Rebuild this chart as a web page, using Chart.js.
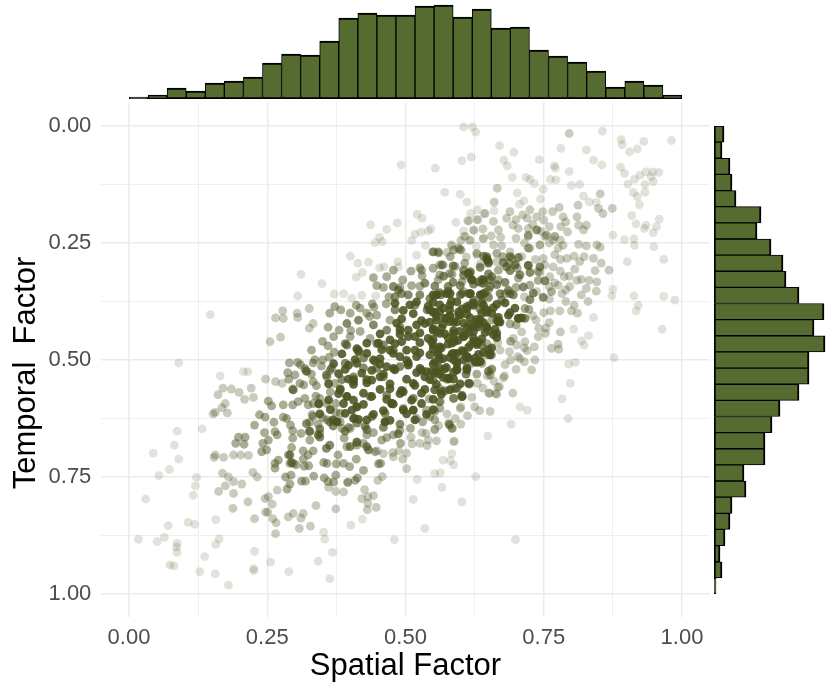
<!DOCTYPE html>
<html>
<head>
<meta charset="utf-8">
<title>Spatial vs Temporal Factor</title>
<script src="https://cdn.jsdelivr.net/npm/chart.js@4/dist/chart.umd.min.js"></script>
<style>
html, body { margin: 0; padding: 0; background: #fff; }
canvas { position: absolute; }
</style>
</head>
<body>
<canvas id="mainChart" width="830" height="692" style="left:0;top:0"></canvas>
<canvas id="topChart" width="830" height="100" style="left:0;top:0"></canvas>
<canvas id="sideChart" width="130" height="692" style="left:700px;top:0"></canvas>
<script>
// histogram counts
const topCounts = [2,4,11,8,16,18,22,36,45,44,58,81,86,84,84,93,94,82,90,71,72,49,43,37,28,12,18,14,4];
const sideCounts = [10,8,16,18,22,47,43,57,69,72,85,110,100,111,95,95,85,66,58,51,51,30,32,18,16,11,6,8,2];

// scatter points [spatial, temporal], grouped by how faint they are in the picture
const faintest = [
[.605,.002],[.621,.002],[.627,.013],[.670,.042],[.602,.074],[.619,.066],[.492,.083],[.554,.090],[.571,.142],[.599,.146],[.611,.162],[.665,.133],[.661,.162],[.437,.211],[.485,.207],[.521,.189],[.530,.197],[.466,.221],[.517,.231],[.528,.227],[.541,.224],[.546,.220],[.511,.245],[.445,.249],[.453,.238],[.458,.247],[.536,.255],[.400,.278],[.414,.293],[.433,.291],[.411,.323],[.422,.313],[.311,.317],[.349,.337],[.305,.363],[.371,.359],[.388,.358],[.403,.368],[.421,.362],[.446,.363],[.520,.276],[.618,.187],[.630,.179],[.642,.187],[.660,.181],[.591,.206],[.605,.224],[.624,.224],[.612,.202],[.632,.200],[.605,.236],[.616,.245],[.640,.241],[.584,.256],[.628,.256],[.629,.276],[.453,.303],[.461,.301],[.487,.301],[.486,.290],
[.856,.011],[.781,.048],[.827,.051],[.890,.029],[.892,.040],[.905,.055],[.919,.049],[.931,.033],[.981,.031],[.696,.056],[.678,.073],[.684,.085],[.742,.072],[.769,.085],[.771,.090],[.840,.073],[.855,.083],[.796,.097],[.889,.088],[.896,.101],[.693,.110],[.718,.110],[.725,.114],[.733,.123],[.762,.114],[.772,.115],[.749,.135],[.800,.127],[.815,.125],[.667,.133],[.702,.143],[.744,.156],[.822,.150],[.914,.114],[.924,.105],[.935,.098],[.947,.098],[.958,.099],[.944,.108],[.948,.119],[.902,.124],[.933,.125],[.912,.142],[.933,.142],[.919,.151],[.923,.168],[.660,.163],[.714,.160],[.706,.167],[.832,.162],[.845,.163],[.909,.191],[.917,.209],[.935,.212],[.932,.219],[.954,.215],[.959,.199],[.948,.228],[.875,.233],[.896,.243],[.913,.241],[.914,.255],[.949,.258],[.901,.290],[.967,.285],[.875,.349],[.873,.363],[.913,.363],[.967,.364],[.987,.372],
[.921,.383],[.917,.395],[.964,.434],[.877,.495],[.804,.434],[.831,.448],[.818,.459],[.823,.468],[.840,.409],[.794,.625],[.691,.637],[.649,.662],[.783,.583],[.798,.550],[.795,.509],[.807,.505],[.707,.600],[.720,.607],[.627,.749],[.602,.803],[.566,.772],[.699,.884],[.553,.743],[.563,.741],[.568,.714],[.584,.700],[.581,.715],[.587,.724],[.587,.674],
[.147,.403],[.090,.506],[.165,.534],[.207,.525],[.215,.525],[.087,.652],[.132,.647],[.082,.682],[.044,.699],[.090,.712],[.073,.734],[.054,.747],[.122,.751],[.120,.769],[.116,.789],[.030,.797],[.071,.854],[.107,.847],[.119,.851],[.157,.841],[.017,.883],[.051,.888],[.064,.879],[.087,.892],[.086,.900],[.087,.911],[.163,.882],[.157,.894],[.137,.920],[.074,.938],[.081,.940],[.128,.952],[.156,.957],[.180,.981],[.227,.909],[.256,.932],[.225,.946],[.226,.950],[.289,.952],[.342,.930],[.363,.967],[.368,.911],[.354,.883],[.352,.868],[.401,.853],[.422,.840],[.480,.884],[.535,.860],[.514,.798],[.521,.755]
];
const faint = [
[.796,.016],[.852,.145],[.868,.308],
[.170,.560],[.185,.562],[.161,.574],[.199,.569],[.209,.584],[.225,.580],[.221,.560],[.174,.593],[.168,.602],[.178,.613],[.152,.615],[.156,.612],[.247,.541],[.265,.546],[.277,.550],[.278,.395],[.265,.410],[.279,.411],[.304,.400],[.305,.409],[.326,.390],[.326,.432],[.333,.422],[.255,.461],[.274,.451],[.156,.703],[.171,.708],[.189,.703],[.202,.703],[.216,.704],[.154,.708],[.169,.742],[.180,.750],[.189,.760],[.174,.769],[.162,.781],[.189,.785],[.204,.765],[.215,.803],[.188,.817],[.224,.740],[.232,.750],[.268,.778],[.246,.796],[.252,.792],[.259,.808],[.247,.825],[.251,.825],[.260,.839],[.266,.848],[.265,.871],[.227,.839],[.288,.835],[.297,.828],[.315,.828],[.311,.838],[.308,.860],[.328,.855],[.338,.811],[.374,.818],[.426,.777],[.421,.796],[.432,.792],[.442,.790],[.432,.806],[.431,.820],[.447,.815],[.388,.782],[.374,.781],[.361,.772],[.395,.762],[.450,.757],[.458,.749],[.502,.732],[.495,.712],[.502,.699],[.488,.694],[.478,.707],[.477,.698],[.460,.700],[.449,.694],[.512,.679],[.526,.678],[.539,.683],[.556,.673],[.537,.657],[.541,.671],[.553,.648],[.600,.637],[.588,.674],[.612,.619],[.599,.604],[.634,.608],[.653,.610],[.625,.600],[.651,.571],[.665,.573],[.670,.557],[.630,.550],
[.750,.399],[.762,.395],[.779,.395],[.800,.395],[.811,.400],[.805,.383],[.736,.415],[.741,.432],[.753,.443],[.754,.432],[.695,.454],[.716,.461],[.701,.468],[.715,.474],[.733,.472],[.776,.466],[.764,.475],[.777,.477],[.734,.500],[.715,.504],[.707,.497],[.703,.493],[.728,.521],[.679,.534],[.677,.538],[.667,.558],[.652,.571],[.663,.572],[.694,.571],[.578,.635],[.585,.646],[.553,.649],[.656,.519],[.648,.534],[.616,.552],[.667,.463],[.688,.482],[.671,.479],
[.659,.204],[.668,.222],[.672,.238],[.689,.183],[.683,.197],[.694,.212],[.704,.219],[.725,.179],[.720,.197],[.737,.194],[.750,.201],[.748,.183],[.766,.183],[.778,.174],[.785,.194],[.781,.215],[.793,.226],[.812,.169],[.810,.194],[.813,.212],[.822,.222],[.827,.212],[.849,.176],[.857,.187],[.874,.176],[.722,.219],[.738,.222],[.752,.236],[.767,.244],[.780,.244],[.722,.236],[.813,.253],[.827,.256],[.846,.254],[.852,.259],[.644,.187],[.629,.200],[.614,.203],[.623,.222],[.608,.236],[.617,.244],[.641,.240],[.659,.254],[.674,.256],[.583,.254],[.601,.265],[.689,.269],[.710,.279],[.725,.261],[.749,.283],[.776,.261],[.780,.285],[.792,.283],[.805,.278],[.823,.279],[.840,.283],[.854,.293],[.752,.297],[.767,.301],[.806,.306],[.787,.322],[.796,.321],[.761,.322],[.743,.313],[.818,.328],[.832,.330],[.846,.333],[.843,.309],[.797,.343],[.827,.347],[.845,.353],[.818,.361],[.776,.340],[.783,.358],[.760,.343],[.737,.354],
[.700,.200],[.712,.190],[.730,.210],[.745,.225],[.760,.215],[.790,.205],[.700,.240],[.715,.250],[.760,.250],[.785,.255],[.640,.220],[.655,.235],[.600,.245],[.575,.270],[.610,.280],[.635,.295],[.665,.290],[.700,.295],[.735,.285],[.770,.275],[.815,.290],[.780,.310],[.810,.330],[.790,.350],[.770,.335],[.715,.365],[.760,.370],[.790,.375],[.830,.375],[.640,.560],[.660,.545],[.620,.580],[.600,.600],[.575,.615],[.590,.625],[.560,.640],[.530,.655],[.510,.665],[.690,.500],[.700,.520],[.680,.510],[.720,.480],[.710,.440],[.740,.450],[.760,.420],[.780,.440],[.730,.405]
];
const medium = [
[.236,.617],[.246,.622],[.262,.633],[.279,.622],[.227,.639],[.245,.655],[.264,.653],[.268,.660],[.252,.671],[.242,.678],[.240,.696],[.249,.692],[.198,.665],[.210,.665],[.193,.678],[.208,.680],[.292,.639],[.296,.651],[.311,.657],[.326,.653],[.327,.633],[.331,.617],[.296,.667],[.294,.687],[.315,.694],[.333,.694],[.288,.703],[.324,.703],[.315,.712],[.297,.721],[.270,.714],[.264,.721],[.264,.731],[.291,.721],[.302,.724],[.317,.727],[.325,.726],[.352,.719],[.358,.721],[.375,.722],[.388,.721],[.399,.728],[.411,.712],[.378,.703],[.424,.736],[.451,.722],[.455,.721],[.283,.750],[.293,.746],[.291,.765],[.286,.776],[.312,.759],[.319,.759],[.334,.748],[.353,.752],[.360,.760],[.370,.761],[.374,.746],[.396,.761],[.409,.757],[.413,.752],[.290,.506],[.305,.505],[.287,.527],[.300,.532],[.318,.518],[.322,.525],[.289,.541],[.309,.550],[.333,.546],[.296,.562],[.316,.553],[.339,.555],[.279,.596],[.296,.596],[.306,.589],[.318,.582],[.338,.577],[.252,.588],[.258,.598],[.330,.479],[.336,.499],[.348,.513],[.362,.494],[.371,.483],[.350,.460],[.363,.400],[.372,.386],[.383,.393],[.380,.436],[.411,.383],[.418,.389],[.443,.387],[.465,.380],[.472,.415],[.435,.407],[.448,.404],[.401,.437],[.418,.439],[.436,.454],[.324,.596],[.333,.593],[.344,.593],[.358,.593],[.374,.593],[.382,.614],[.374,.612],[.342,.637],[.350,.623],[.397,.644],[.385,.646],[.389,.667],[.394,.685],[.412,.675],[.442,.655],[.445,.696],[.457,.671],[.466,.666],[.478,.660],[.490,.650],[.491,.678],[.509,.646],[.531,.632],[.544,.621],[.553,.628],[.561,.589],[.587,.582],[.603,.578],[.579,.637],[.584,.646],[.609,.530],[.615,.550],[.629,.530],[.653,.532],[.647,.489],[.656,.489],[.543,.583],[.579,.541],[.562,.561],[.553,.564],[.562,.603],[.538,.607],
[.716,.390],[.723,.392],[.689,.423],[.668,.418],[.656,.415],[.647,.465],[.653,.487],[.638,.507],[.619,.507],[.656,.520],[.610,.530],[.616,.550],[.584,.561],[.602,.579],[.587,.582],[.563,.589],[.553,.610],[.580,.639],
[.737,.222],[.722,.233],[.755,.233],[.770,.236],[.647,.286],[.650,.293],[.692,.283],[.687,.293],[.702,.304],[.722,.298],[.668,.308],[.676,.279],[.722,.261],[.743,.254],[.629,.272],[.581,.279],[.566,.297],[.580,.315],[.617,.315],[.638,.336],[.668,.329],[.704,.325],[.725,.340],[.740,.311],[.764,.354],[.680,.358],[.650,.350],[.605,.354],[.562,.318],[.551,.269],[.560,.271],[.607,.293],[.596,.261],[.617,.325],
[.549,.269],[.559,.269],[.587,.265],[.599,.264],[.526,.303],[.529,.308],[.562,.297],[.568,.297],[.550,.304],[.442,.324],[.448,.341],[.466,.322],[.478,.308],[.495,.329],[.511,.341],[.526,.342],[.559,.329],[.584,.317],[.602,.333],[.614,.315],[.647,.283],[.650,.293],[.665,.272],
[.740,.330],[.700,.345],[.590,.300],[.530,.320],[.510,.310],[.490,.345],[.460,.345],[.470,.365],[.440,.380],[.430,.400],[.400,.400],[.400,.450],[.370,.450],[.360,.470],[.350,.500],[.330,.530],[.310,.510],[.360,.430],[.520,.625],[.690,.460],[.700,.425],
[.333,.506],[.363,.523],[.358,.537],[.372,.550],[.364,.568],[.345,.582],[.333,.621],[.358,.628],[.382,.632],[.400,.646],[.430,.660],[.412,.682],[.424,.678],[.345,.657],[.327,.671],[.285,.625]
];
const dark = [
[.481,.393],[.517,.383],[.539,.393],[.580,.404],[.616,.383],[.634,.390],[.394,.422],[.415,.415],[.442,.425],[.466,.436],[.490,.429],[.391,.465],[.394,.468],[.415,.479],[.424,.496],[.448,.465],[.460,.468],[.478,.479],[.445,.503],[.424,.517],[.391,.507],[.366,.518],[.357,.532],[.385,.542],[.406,.546],[.448,.518],[.460,.536],[.490,.514],[.382,.561],[.394,.578],[.412,.600],[.436,.578],[.466,.575],[.475,.593],[.496,.604],[.514,.582],[.514,.607],[.463,.614],[.439,.621],[.409,.625],[.427,.642],[.463,.632],[.363,.632],[.376,.632],[.345,.665],[.342,.660],[.327,.652],[.357,.689],[.363,.682],[.400,.685],[.412,.676],[.430,.685],[.433,.692],[.487,.658],[.291,.703],[.294,.719],[.297,.564],[.320,.523],[.406,.536],[.593,.518],[.575,.541],[.593,.560],[.571,.566],[.602,.578],[.550,.543],[.614,.550],[.650,.524],[.629,.464],[.653,.489],[.611,.493],[.587,.454],[.608,.447],[.653,.439],[.665,.415],[.629,.422],
[.605,.450],[.626,.461],[.638,.468],[.635,.415],[.668,.418],[.704,.411],[.716,.411],[.617,.468],[.593,.521],[.590,.561],[.602,.575],[.578,.539],[.565,.567],[.553,.564],[.635,.503],[.611,.493],[.653,.489],
[.648,.286],[.689,.279],[.683,.301],[.722,.298],[.613,.315],[.641,.336],[.653,.343],[.671,.358],[.689,.358],[.556,.361],[.580,.358],[.617,.358],[.638,.361],[.599,.361],[.620,.329],[.638,.328],[.653,.329],[.564,.361],[.581,.358],[.614,.358],[.487,.350],[.505,.361],[.481,.365],
[.641,.278],[.677,.292],[.704,.281],[.586,.299],[.617,.311],[.635,.302],[.650,.316],[.689,.309],[.698,.297],[.725,.313],[.743,.301],[.569,.321],[.586,.334],[.605,.319],[.623,.338],[.656,.322],[.680,.334],[.707,.318],[.752,.331],[.553,.342],[.577,.353],[.599,.341],[.644,.356],[.665,.339],[.686,.351],[.713,.344],[.731,.357],[.544,.369],[.562,.356],[.623,.372],[.650,.366],[.674,.372],[.695,.361],[.725,.371],[.749,.366],
[.478,.343],[.493,.358],[.526,.361],[.535,.336],[.577,.343],[.602,.358],[.641,.358],[.605,.308],[.632,.333],[.650,.290],[.647,.279],
[.321,.636],[.345,.647],[.369,.641],[.391,.652],[.412,.635],[.430,.649],[.460,.644],[.490,.637]
];
const darkest = [
[.490,.436],[.505,.450],[.520,.425],[.544,.393],[.556,.415],[.580,.407],[.596,.404],[.617,.425],[.632,.429],[.647,.429],[.626,.461],[.638,.400],[.451,.464],[.472,.479],[.493,.461],[.517,.450],[.517,.479],[.541,.454],[.562,.472],[.587,.443],[.593,.486],[.415,.482],[.442,.500],[.466,.514],[.490,.493],[.520,.493],[.544,.489],[.559,.489],[.526,.518],[.553,.528],[.587,.500],[.611,.493],[.626,.504],[.397,.511],[.406,.542],[.430,.542],[.454,.536],[.481,.521],[.505,.511],[.535,.536],[.562,.518],[.394,.578],[.412,.600],[.439,.578],[.472,.561],[.496,.568],[.517,.554],[.538,.525],[.475,.593],[.406,.625],[.430,.628],[.463,.632],[.514,.607],[.376,.632],[.508,.382],[.611,.386],[.641,.383],[.562,.382],[.580,.393],
[.620,.329],[.641,.329],[.617,.358],[.635,.361],[.550,.361],[.574,.358],[.556,.361],
[.580,.383],[.599,.404],[.580,.418],[.623,.383],[.635,.415],[.668,.418],[.686,.404],[.704,.411],[.556,.407],[.562,.443],[.550,.468],[.584,.464],[.623,.461],[.623,.429],[.632,.422],[.605,.450],[.665,.443],[.614,.496],[.635,.503],[.587,.486],[.593,.521],[.568,.497],[.556,.525],[.550,.436],[.578,.539],
[.481,.379],[.496,.394],[.520,.376],[.541,.385],[.562,.397],[.583,.374],[.602,.391],[.623,.378],[.647,.393],[.665,.381],
[.493,.412],[.514,.401],[.529,.416],[.550,.398],[.571,.411],[.592,.419],[.611,.402],[.629,.413],[.656,.400],
[.484,.421],[.505,.436],[.535,.422],[.550,.433],[.568,.424],[.587,.437],[.605,.421],[.623,.439],[.641,.420],[.662,.434],
[.454,.444],[.472,.457],[.490,.445],[.526,.442],[.550,.456],[.571,.444],[.595,.458],[.614,.441],[.638,.455],[.659,.446],
[.412,.476],[.430,.464],[.457,.478],[.481,.465],[.502,.479],[.526,.463],[.550,.477],[.577,.466],[.602,.480],[.629,.467],[.650,.478],
[.385,.487],[.409,.499],[.430,.486],[.454,.497],[.478,.486],[.502,.501],[.526,.485],[.562,.499],[.584,.487],[.605,.500],[.632,.488],
[.370,.508],[.391,.520],[.412,.507],[.439,.522],[.454,.509],[.478,.518],[.505,.506],[.529,.522],[.550,.509],[.571,.519],[.593,.507],[.611,.521],
[.379,.529],[.397,.541],[.421,.528],[.439,.543],[.460,.530],[.502,.541],[.520,.527],[.544,.542],[.562,.530],[.587,.541],
[.361,.551],[.382,.564],[.406,.552],[.430,.549],[.454,.563],[.472,.551],[.493,.565],[.514,.550],[.535,.563],[.556,.552],[.580,.564],[.599,.551],
[.361,.585],[.379,.572],[.406,.586],[.424,.571],[.466,.584],[.490,.572],[.511,.586],[.529,.571],[.550,.584],[.565,.573],
[.343,.594],[.364,.606],[.388,.593],[.403,.607],[.424,.595],[.460,.608],[.478,.594],[.496,.607],[.529,.593],[.550,.606],
[.345,.615],[.369,.628],[.391,.614],[.415,.627],[.442,.616],[.472,.629],[.502,.615],[.517,.628],[.538,.616],
[.550,.377],[.568,.389],[.593,.376],[.611,.391],[.638,.377],[.659,.388],[.680,.378],[.698,.389],
[.553,.398],[.574,.411],[.596,.397],[.617,.410],[.647,.398],[.668,.409],[.689,.399],[.710,.410],
[.544,.419],[.565,.432],[.587,.418],[.611,.431],[.629,.420],[.647,.432],[.671,.419],
[.556,.440],[.577,.452],[.598,.439],[.623,.453],[.644,.441],[.665,.452],
[.547,.461],[.565,.474],[.589,.460],[.614,.473],[.632,.462],[.656,.474],
[.559,.483],[.580,.495],[.605,.482],[.626,.496],[.641,.484],
[.553,.504],[.574,.516],[.593,.503],[.611,.517],[.629,.505],
[.547,.525],[.568,.537],[.587,.526]
];

const pointColor = a => `rgba(75, 83, 32, ${a})`;
const barFill = '#556B2F';
const axisTicks = { font: { family: 'Liberation Sans', size: 22 }, color: '#4D4D4D' };
const axisTitle = (text, padding) => ({
    display: true,
    text: text,
    color: '#000',
    font: { family: 'Liberation Sans', size: 31 },
    padding: padding
});
const isMajor = v => Math.abs(v * 4 - Math.round(v * 4)) < 1e-6;
const gridLines = {
    color: '#EBEBEB',
    drawTicks: false,
    lineWidth: ctx => (isMajor(ctx.tick.value) ? 1.5 : 0.8)
};
const tickLabel = v => (isMajor(v) ? v.toFixed(2) : '');

// Joint scatter panel
new Chart(document.getElementById('mainChart'), {
    type: 'scatter',
    data: {
        datasets: [
            { data: darkest, backgroundColor: pointColor(0.88) },
            { data: dark, backgroundColor: pointColor(0.68) },
            { data: medium, backgroundColor: pointColor(0.48) },
            { data: faint, backgroundColor: pointColor(0.3) },
            { data: faintest, backgroundColor: pointColor(0.17) }
        ]
    },
    options: {
        responsive: false,
        animation: false,
        parsing: { xAxisKey: 0, yAxisKey: 1 },
        layout: { padding: { top: 102.6, right: 120.35, left: 0, bottom: 0 } },
        elements: { point: { radius: 4.4, borderWidth: 0 } },
        plugins: { legend: { display: false }, tooltip: { enabled: false } },
        scales: {
            x: {
                type: 'linear',
                min: -0.05,
                max: 1.05,
                border: { display: false },
                grid: gridLines,
                afterBuildTicks: s => { s.ticks = [0, .125, .25, .375, .5, .625, .75, .875, 1].map(value => ({ value })); },
                afterFit: s => { s.height = 74.6; },
                ticks: { ...axisTicks, padding: 7, maxRotation: 0, autoSkip: false, callback: tickLabel },
                title: axisTitle('Spatial Factor', { top: 0, bottom: 7 })
            },
            y: {
                type: 'linear',
                reverse: true,
                min: -0.05,
                max: 1.05,
                border: { display: false },
                grid: gridLines,
                afterBuildTicks: s => { s.ticks = [0, .125, .25, .375, .5, .625, .75, .875, 1].map(value => ({ value })); },
                afterFit: s => { s.width = 101.35; },
                ticks: { ...axisTicks, padding: 10, autoSkip: false, callback: tickLabel },
                // trailing spaces push the rotated label down to where the reference has it
                title: axisTitle('Temporal  Factor   ', { top: 8, bottom: 0 })
            }
        }
    }
});

// Marginal histogram, top
new Chart(document.getElementById('topChart'), {
    type: 'bar',
    data: {
        labels: topCounts.map((_, i) => i),
        datasets: [{
            data: topCounts,
            backgroundColor: barFill,
            borderColor: '#000',
            borderWidth: { top: 2, bottom: 2, left: 1, right: 1 },
            borderSkipped: false,
            categoryPercentage: 1,
            barPercentage: 1
        }]
    },
    options: {
        responsive: false,
        animation: false,
        layout: { padding: { left: 129, right: 148, top: 2, bottom: 1 } },
        plugins: { legend: { display: false }, tooltip: { enabled: false } },
        scales: {
            x: { display: false },
            y: { display: false, min: 0, max: 97 }
        }
    }
});

// Marginal histogram, right
new Chart(document.getElementById('sideChart'), {
    type: 'bar',
    data: {
        labels: sideCounts.map((_, i) => i),
        datasets: [{
            data: sideCounts,
            backgroundColor: barFill,
            borderColor: '#000',
            borderWidth: { left: 2, right: 2, top: 1, bottom: 1 },
            borderSkipped: false,
            categoryPercentage: 1,
            barPercentage: 1
        }]
    },
    options: {
        indexAxis: 'y',
        responsive: false,
        animation: false,
        layout: { padding: { left: 14, right: 3, top: 126, bottom: 98 } },
        plugins: { legend: { display: false }, tooltip: { enabled: false } },
        scales: {
            x: { display: false, min: 0, max: 113 },
            y: { display: false }
        }
    }
});
</script>
</body>
</html>
